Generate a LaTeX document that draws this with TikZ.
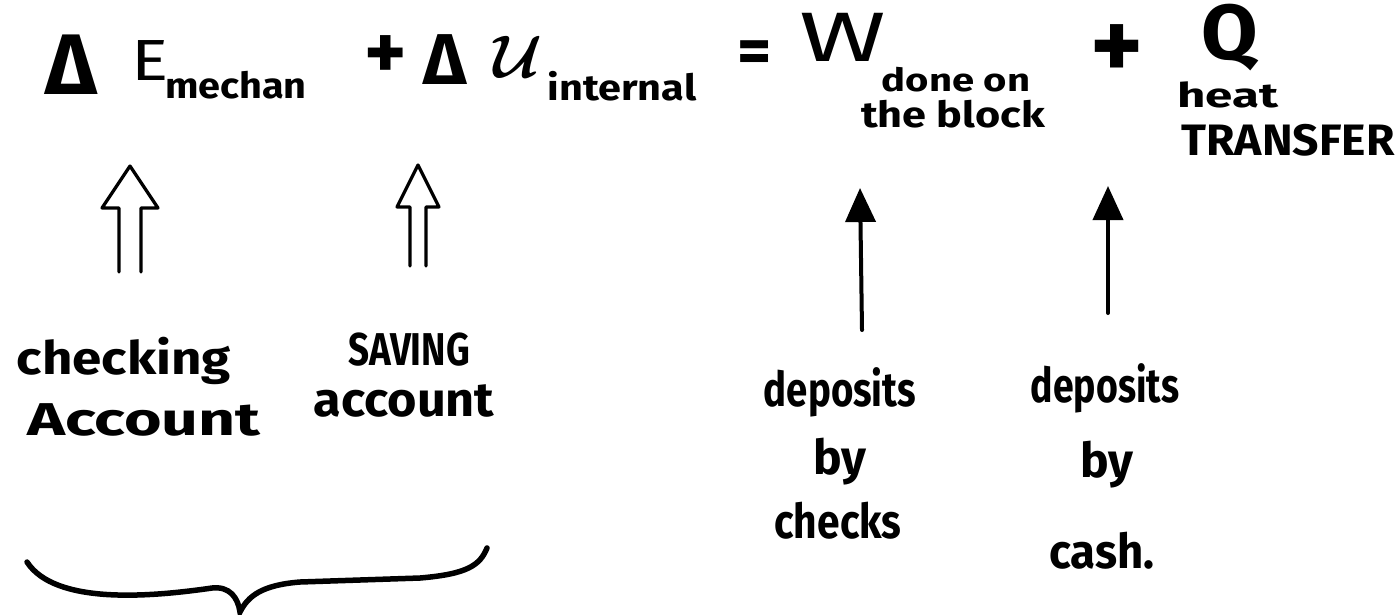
\documentclass[tikz,border=0pt]{standalone}
\usepackage{fontspec}
\setmainfont{Fira Sans}
\usetikzlibrary{arrows.meta,calc}
\newcommand{\fs}[1]{\fontsize{#1}{#1}\selectfont}
\newcommand{\sx}[2]{\scalebox{#1}[1]{#2}}
\tikzset{
  txt/.style={inner sep=0pt},
  hol/.style={line width=3.2pt, line join=round, line cap=round},
  solidarr/.style={line width=4pt, line cap=round, -{Triangle[length=34pt,width=30pt]}},
  brace/.style={line width=5.5pt, line cap=round}
}
\begin{document}
\begin{tikzpicture}[x=1pt,y=-1pt]
\useasboundingbox (0,0) rectangle (1397,614);
% top equation
\node[txt, font=\fs{86}\bfseries] (d1) at (71,65) {Δ};
\node[txt, font=\fs{58}] (E) at (150,61) {\sx{1.2}{E}};
\node[txt, font=\fs{36}\bfseries] (mech) at (236,85) {\sx{1.1}{mechan}};
\node[txt, font=\fs{80}\bfseries] (p1) at (386,58) {+};
\node[txt, font=\fs{72}\bfseries] (d2) at (445,60) {Δ};
\node[txt, font=\fs{10}] (U) at (518,57) {\scalebox{6}{\boldmath$\mathcal{U}$}};
\node[txt, font=\fs{36}\bfseries] (int) at (622,86) {\sx{1.15}{internal}};
\node[txt, font=\fs{66}\bfseries] (eq) at (755,57) {=};
\node[txt, font=\fs{70}] (W) at (843,37) {\sx{1.5}{W}};
\node[txt, font=\fs{32}\bfseries] (done) at (956,80) {\sx{1.25}{done on}};
\node[txt, font=\fs{36}\bfseries] (blk) at (953,114) {\sx{1.2}{the block}};
\node[txt, font=\fs{100}\bfseries] (p2) at (1117,52) {+};
\node[txt, font=\fs{78}\bfseries] (Q) at (1230,38) {\sx{1.05}{Q}};
\node[txt, font=\fs{34}\bfseries] (heat) at (1228,95) {\sx{1.45}{heat}};
\node[txt, font=\fs{44}\bfseries] (tr) at (1288,140) {\sx{1.05}{TRANSFER}};
% lower labels
\node[txt, font=\fs{46}\bfseries] (ck) at (124,361) {\sx{1.15}{checking}};
\node[txt, font=\fs{46}\bfseries] (acc1) at (144,420) {\sx{1.4}{Account}};
\node[txt, font=\fs{46}\bfseries] (sav) at (409,350) {\sx{0.8}{SAVING}};
\node[txt, font=\fs{48}\bfseries] (acc2) at (404,401) {\sx{1.05}{account}};
\node[txt, font=\fs{48}\bfseries] (dep1) at (840,392) {\sx{0.8}{deposits}};
\node[txt, font=\fs{48}\bfseries] (by1) at (840,462) {by};
\node[txt, font=\fs{48}\bfseries] (chk) at (838,521) {\sx{0.85}{checks}};
\node[txt, font=\fs{48}\bfseries] (dep2) at (1105,388) {\sx{0.78}{deposits}};
\node[txt, font=\fs{48}\bfseries] (by2) at (1107,465) {by};
\node[txt, font=\fs{48}\bfseries] (cash) at (1102,551) {\sx{0.95}{cash.}};
% arrow end points
\coordinate (h1t) at (130,166);
\coordinate (h1b) at (130,272);
\coordinate (h2t) at (418,165);
\coordinate (h2b) at (418,266);
\coordinate (s1t) at (860,188);
\coordinate (s1b) at (862,330);
\coordinate (s2t) at (1108,186);
\coordinate (s2b) at (1108,313);
% hollow arrows
\draw[hol] ($(h1b)+(-11,0)$) -- ($(h1t)+(-11,42)$) -- ($(h1t)+(-28,42)$) -- (h1t)
  -- ($(h1t)+(28,42)$) -- ($(h1t)+(11,42)$) -- ($(h1b)+(11,0)$);
\draw[hol] ($(h2b)+(-8,0)$) -- ($(h2t)+(-8,42)$) -- ($(h2t)+(-21,42)$) -- (h2t)
  -- ($(h2t)+(21,42)$) -- ($(h2t)+(8,42)$) -- ($(h2b)+(8,0)$);
% solid arrows
\draw[solidarr] (s1b) -- (s1t);
\draw[solidarr] (s2b) -- (s2t);
% brace
\coordinate (bl) at (27,562);
\coordinate (bm) at (240,612);
\coordinate (br) at (487,548);
\draw[brace] (bl) .. controls (55,605) and (150,597) .. (212,588)
  .. controls (230,586) and (238,598) .. (bm)
  .. controls (248,596) and (262,585) .. (300,582)
  -- (420,578) .. controls (468,574) and (480,565) .. (br);
\end{tikzpicture}
\end{document}
